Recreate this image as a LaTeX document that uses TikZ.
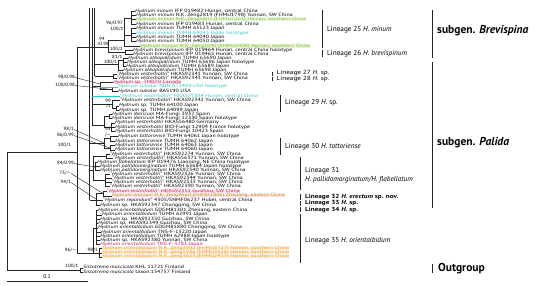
\documentclass[tikz,border=0pt]{standalone}
\usepackage{graphicx}
\usepackage{fontspec}
\setmainfont{PT Sans}
\definecolor{cgreen}{HTML}{7DBF3A}
\definecolor{cgreenbg}{HTML}{E6F4D3}
\definecolor{ccyan}{HTML}{33C4C4}
\definecolor{cred}{HTML}{C2185B}
\definecolor{cpink}{HTML}{FCE3EB}
\definecolor{corange}{HTML}{F39A2C}
\definecolor{corangebg}{HTML}{FDEBD3}
\definecolor{cgold}{HTML}{C08A17}
\tikzset{
  tx/.style={font=\fontsize{4.6}{5}\selectfont, anchor=west, inner sep=0pt, text height=2.6pt, text depth=0.5pt},
  grn/.style={text=cgreen, fill=cgreenbg},
  cyn/.style={text=ccyan},
  rd/.style={text=cred},
  rdbg/.style={text=cred, fill=cpink},
  gld/.style={text=cgold, fill=cpink},
  org/.style={text=corange, fill=corangebg},
  br/.style={line width=0.5pt, black!85},
  lead/.style={line width=0.4pt, black!85},
  bs/.style={font=\fontsize{4.6}{5}\selectfont, inner sep=0pt, text height=2.6pt, text depth=0.5pt},
  lin/.style={font=\fontsize{7.2}{8}\selectfont, anchor=west, inner sep=0pt, text height=4.3pt, text depth=0.5pt},
  lins/.style={font=\fontsize{5.9}{6}\selectfont, anchor=west, inner sep=0pt, text height=3.6pt, text depth=0.5pt},
  linsb/.style={lins, font=\fontsize{5.9}{6}\selectfont\bfseries},
  lbar/.style={line width=0.8pt, black!85},
  sg/.style={font=\fontsize{11.5}{12}\selectfont\bfseries, anchor=west, inner sep=0pt},
}
\newcommand\tax[5][]{\node[tx,#1] (#2) at (#3,#4) {\scalebox{1.28}[1]{#5}};}
\newcommand\twig[3][]{\coordinate (tmpc) at (#2,0); \draw[br,#1] (tmpc |- #3.west) -- (#3.west);}
\newcommand\hy{\textit{Hydnum}}
\newcommand\wsup[1]{\scalebox{1.1}[1]{#1}}
\newcommand\wlin[1]{\scalebox{1.22}[1]{#1}}
\begin{document}
\begin{tikzpicture}[x=1pt,y=-1pt]
\useasboundingbox (0,0) rectangle (550,285);
% ---------------- taxa
\tax{l1}{135}{11.7}{\textit{Hydnum minum} IFP 019482 Hunan, central China}
\tax{l2}{136}{15.6}{\textit{Hydnum minum} N.K. Zeng2819 (FHMU1798) Yunnan, SW China}
\tax[grn]{l3}{136}{19.6}{\textit{Hydnum minum} N.K. Zeng5807 (FHMU7303) Hainan, southern China}
\tax{l4}{136}{24}{\textit{Hydnum minum} IFP 019483 Hunan, central China}
\tax{l5}{136}{28.3}{\textit{Hydnum minum} TUMH 63123 Japan}
\tax[cyn]{l6}{136}{33}{\textit{Hydnum minum} TUMH 64043 Japan holotype}
\tax{l7}{136}{37.3}{\textit{Hydnum minum} TUMH 64040 Japan}
\tax{l8}{136}{41.7}{\textit{Hydnum minum} TUMH 64050 Japan}
\tax[grn]{l9}{140}{46}{\textit{Hydnum minum} N.K. Zeng3690 (FHMU2408) Hainan, southern China}
\tax{l10}{133}{50}{\textit{Hydnum brevispinum} IFP 019464 Hunan, central China holotype}
\tax{l11}{133}{54}{\textit{Hydnum brevispinum} IFP 019465 Hunan, central China}
\tax{l12}{128}{58.2}{\textit{Hydnum albopallidum} TUMH 63690 Japan}
\tax{l13}{127}{62}{\textit{Hydnum albopallidum} TUMH 63696 Japan holotype}
\tax{l14}{126}{66}{\textit{Hydnum albopallidum} TUMH 63689 Japan}
\tax{l15}{123}{70.2}{\textit{Hydnum albopallidum} TUMH 63698 Japan}
\tax{l16}{117}{74.3}{“\textit{Hydnum vesterholtii}” HKAS92341 Yunnan, SW China}
\tax{l17}{117}{78.4}{“\textit{Hydnum vesterholtii}” HKAS92343 Yunnan, SW China}
\tax[rdbg]{l18}{113}{82.6}{\hy{} sp. TM070 Canada}
\tax[cyn]{l19}{118}{86.8}{\textit{Hydnum subolor} NBN 073484 USA holotype}
\tax{l20}{118}{91}{\textit{Hydnum subolor} BAS190 USA}
\tax[cyn]{l21}{120}{96}{“\textit{Hydnum vesterholtii}” HKAS77884 Hunan, central China}
\tax{l22}{120}{100.7}{“\textit{Hydnum vesterholtii}” HKAS92342 Yunnan, SW China}
\tax{l23}{119}{105.8}{\hy{} sp. TUMH 64100 Japan}
\tax{l24}{119}{110}{\hy{} sp. TUMH 64099 Japan}
\tax{l25}{112}{114}{\textit{Hydnum ibericum} MA-Fungi 3937 Spain}
\tax{l26}{112}{118.2}{\textit{Hydnum ibericum} MA-Fungi 12330 Spain holotype}
\tax{l27}{115}{122.8}{\textit{Hydnum vesterholtii} HKAS56480 Germany}
\tax{l28}{115}{127.2}{\textit{Hydnum vesterholtii} BIO-Fungi 12904 France holotype}
\tax{l29}{115}{131.6}{\textit{Hydnum vesterholtii} BIO-Fungi 10423 Spain}
\tax{l30}{118}{136.2}{\textit{Hydnum tottoriense} TUMH 64061 Japan holotype}
\tax{l31}{115}{141.3}{\textit{Hydnum tottoriense} TUMH 64062 Japan}
\tax{l32}{115}{145.7}{\textit{Hydnum tottoriense} TUMH 64063 Japan}
\tax{l33}{115}{149.9}{\textit{Hydnum tottoriense} TUMH 64060 Japan}
\tax{l34}{110}{154.1}{“\textit{Hydnum vesterholtii}” HKAS92274 Yunnan, SW China}
\tax{l35}{113}{158.3}{“\textit{Hydnum vesterholtii}” HKAS56371 Yunnan, SW China}
\tax{l36}{97}{162.5}{\textit{Hydnum flabellatum} IFP 019476 Liaoning, NE China holotype}
\tax{l37}{100}{166.6}{\textit{Hydnum pallidomarginatum} TUMH 63684 Japan holotype}
\tax{l38}{100}{170.7}{\textit{Hydnum pallidomarginatum} HKAS92340 Yunnan, SW China}
\tax{l39}{110}{174.7}{“\textit{Hydnum vesterholtii}” HKAS92326 Yunnan, SW China}
\tax{l40}{112}{178.6}{“\textit{Hydnum vesterholtii}” HKAS92344 Yunnan, SW China}
\tax{l41}{112}{182.6}{“\textit{Hydnum vesterholtii}” HKAS92333 Yunnan, SW China}
\tax{l42}{110}{186.7}{“\textit{Hydnum vesterholtii}” HKAS92390 Yunnan, SW China}
\tax[rdbg]{l43}{107}{191.2}{“\textit{Hydnum vesterholtii}” HKAS92351 Guizhou, SW China}
\tax[gld]{l44}{112}{195.9}{\textit{Hydnum erectum} N.K. Zeng4560 (FHMU1806) Zhejiang, eastern China}
\tax{l45}{103}{200.6}{“\textit{Hydnum repandum}” 4305/SNMF06237 Hubei, central China}
\tax{l46}{100}{205}{\hy{} sp. HKAS92347 Chongqing, SW China}
\tax{l47}{98}{210.4}{\textit{Hydnum orientalbidum} GDGM81301 Zhejiang, eastern China}
\tax{l48}{102}{214.9}{\textit{Hydnum orientalbidum} TUMH 62991 Japan}
\tax{l49}{100}{219.3}{\hy{} sp. HKAS92350 Guizhou, SW China}
\tax{l50}{98}{223.6}{\hy{} sp. HKAS92349 Guizhou, SW China}
\tax{l51}{98}{227.9}{\textit{Hydnum orientalbidum} GDGM81880 Chongqing, SW China}
\tax{l52}{101}{232.2}{\textit{Hydnum orientalbidum} TNS-F-15220 Japan}
\tax{l53}{100}{236.3}{\textit{Hydnum orientalbidum} TUMH 62988 Japan holotype}
\tax{l54}{100}{240.5}{\hy{} sp. HKAS92380 Yunnan, SW China}
\tax[rd]{l55}{100}{244.6}{\textit{Hydnum orientalbidum} TNS-F-3783 Japan}
\tax[org]{l56}{102}{248.7}{\textit{Hydnum orientalbidum} N.K. Zeng3902 (FHMU3727) Hainan, southern China}
\tax[org]{l57}{102}{252.8}{\textit{Hydnum orientalbidum} N.K. Zeng5046 (FHMU3616) Hainan, southern China}
\tax[org]{l58}{102}{256.9}{\textit{Hydnum orientalbidum} N.K. Zeng3633 (FHMU2413) Hainan, southern China}
\tax{l59}{83}{267.8}{\textit{Sistotrema muscicola} KHL 11721 Finland}
\tax{l60}{83}{272.2}{\textit{Sistotrema muscicola} taxon:154757 Finland}
% ---------------- tree
% root and outgroup
\draw[br] (7,152) -- (7,270);
\draw[br] (7,152) -- (77,152);
\draw[br] (7,270) -- (80,270);
\draw[br] (80,267.8) -- (80,272.2);
\twig{80}{l59} \twig{80}{l60}
% ingroup backbone
\draw[br] (77,47) -- (77,253);
% Brevispina
\draw[br] (77,47) -- (108,47);
\draw[br] (108,40) -- (108,52);
\draw[br] (108,40) -- (124,40);
\draw[br] (124,18) -- (124,46);
\draw[br] (124,18) -- (131,18);
\draw[br] (131,11.7) -- (131,24);
\twig{131}{l1} \twig{131}{l2} \twig{131}{l3} \twig{131}{l4}
\draw[br] (124,35) -- (131,35);
\draw[br] (131,28.3) -- (131,41.7);
\twig{131}{l5} \twig{131}{l6} \twig{131}{l7} \twig{131}{l8}
\twig{124}{l9}
\draw[br] (108,52) -- (125,52);
\draw[br] (125,50) -- (125,54);
\twig{125}{l10} \twig{125}{l11}
% upper backbone lines
\draw[br] (89.5,8) -- (89.5,200);
\draw[br] (92,8) -- (92,125);
\draw[br] (94.5,8) -- (94.5,76);
% albopallidum
\draw[br] (94.5,64) -- (118,64);
\draw[br] (118,60) -- (118,70.2);
\draw[br] (118,60) -- (123,60);
\draw[br] (123,58.2) -- (123,66);
\twig{123}{l12} \twig{123}{l13} \twig{123}{l14} \twig{118}{l15}
% lineages 27/28
\draw[br] (94.5,76) -- (113,76);
\draw[br] (113,74.3) -- (113,78.4);
\twig{113}{l16} \twig{113}{l17}
% subolor group
\draw[br] (92,86) -- (100,86);
\draw[br] (100,82.6) -- (100,89);
\twig{100}{l18}
\draw[br] (100,89) -- (112,89);
\draw[br] (112,86.8) -- (112,91);
\twig[ccyan]{100}{l19} \twig{112}{l20}
% lineage 29
\twig[ccyan]{92}{l21}
\draw[br] (92,104) -- (112,104);
\draw[br] (112,100.7) -- (112,108);
\twig{112}{l22}
\draw[br] (112,108) -- (116,108);
\draw[br] (116,105.8) -- (116,110);
\twig{116}{l23} \twig{116}{l24}
% ibericum / vesterholtii (Europe)
\draw[br] (92,125) -- (104,125);
\draw[br] (104,116) -- (104,127.2);
\draw[br] (104,116) -- (109,116);
\draw[br] (109,114) -- (109,118.2);
\twig{109}{l25} \twig{109}{l26}
\draw[br] (104,127.2) -- (111,127.2);
\draw[br] (111,122.8) -- (111,131.6);
\twig{111}{l27} \twig{111}{l28} \twig{111}{l29}
% tottoriense
\draw[br] (89.5,143) -- (104,143);
\draw[br] (104,138) -- (104,148);
\draw[br] (104,138) -- (110,138);
\draw[br] (110,136.2) -- (110,141.3);
\twig{110}{l30} \twig{110}{l31}
\draw[br] (104,148) -- (110,148);
\draw[br] (110,145.7) -- (110,149.9);
\twig{110}{l32} \twig{110}{l33}
% lineage 31
\draw[br] (89.5,170) -- (93,170);
\draw[br] (93,156) -- (93,180);
\draw[br] (93,156) -- (106,156);
\draw[br] (106,154.1) -- (106,158.3);
\twig{106}{l34} \twig{106}{l35}
\draw[br] (93,166.6) -- (95,166.6);
\draw[br] (95,162.5) -- (95,170.7);
\twig{95}{l36} \twig{95}{l37} \twig{95}{l38}
\draw[br] (93,180) -- (105,180);
\draw[br] (105,174.7) -- (105,186.7);
\twig{105}{l39} \twig{105}{l40} \twig{105}{l41} \twig{105}{l42}
% lineages 32-34
\draw[br] (89.5,200) -- (96,200);
\draw[br] (96,193.5) -- (96,205);
\draw[br] (96,193.5) -- (103,193.5);
\draw[br] (103,191.2) -- (103,195.9);
\twig{103}{l43} \twig{103}{l44}
\twig{96}{l45} \twig{96}{l46}
% orientalbidum
\draw[br] (77,253) -- (99,253);
\draw[br] (93,228) -- (93,253);
\draw[br] (93,228) -- (96,228);
\draw[br] (96,210.4) -- (96,244.6);
\twig{96}{l47} \twig{96}{l48} \twig{96}{l49} \twig{96}{l50} \twig{96}{l51}
\twig{96}{l52} \twig{96}{l53} \twig{96}{l54} \twig{96}{l55}
\draw[br] (99,248.7) -- (99,256.9);
\twig{99}{l56} \twig{99}{l57} \twig{99}{l58}
% ---------------- support values
\node[bs,anchor=east] at (123,23.5) {\wsup{96/0.97}};
\node[bs,anchor=east] at (123.5,29.5) {\wsup{100/1}};
\node[bs,anchor=west] at (99,39.3) {\wsup{94}};
\node[bs,anchor=west] at (97.5,44.2) {\wsup{/0.98}};
\node[bs,anchor=east] at (123,49.2) {\wsup{100/1}};
\node[bs,anchor=east] at (122.5,57) {\wsup{81/1}};
\node[bs,anchor=east] at (117,62) {\wsup{100/1}};
\node[bs,anchor=south east] at (111,103.4) {\wsup{99}};
\node[bs,anchor=north east] at (111,104.8) {\wsup{/1}};
\node[bs] at (108,129.8) {\wsup{95}};
\node[bs] at (108,135) {\wsup{/—}};
\node[bs,anchor=east] at (71,145.5) {\wsup{100/1}};
\node[bs,anchor=south east] at (98,251.8) {\wsup{98/1}};
\node[bs,anchor=east] at (76.5,250.5) {\wsup{96/—}};
\node[bs,anchor=east] at (78.5,266) {\wsup{100/1}};
\node[bs,anchor=east] (s1) at (75,77.5) {\wsup{98/0.98}};
\node[bs,anchor=east] (s2) at (75,85.5) {\wsup{100/0.98}};
\node[bs,anchor=east] (s3) at (74,129.5) {\wsup{98/1}};
\node[bs,anchor=east] (s4) at (74,135.5) {\wsup{86/0.99}};
\node[bs,anchor=east] (s5) at (74,163.5) {\wsup{84/0.99}};
\node[bs,anchor=east] (s6) at (71,173.5) {\wsup{73/—}};
\node[bs,anchor=east] (s7) at (71,182.5) {\wsup{94/1}};
\draw[lead] (s1.east) -- (100,84);
\draw[lead] (s2.east) -- (112,89.5);
\draw[lead] (s3.east) -- (104,143);
\draw[lead] (s4.east) -- (110,148);
\draw[lead] (s5.east) -- (95,167);
\draw[lead] (s6.east) -- (103,193.5);
\draw[lead] (s7.east) -- (96,199);
% scale bar
\draw[br] (7,281.5) -- (88,281.5);
\node[bs,font=\fontsize{5.6}{6}\selectfont] at (47,277) {0.1};
% ---------------- lineage labels
\draw[lbar] (322.5,10) -- (322.5,48);
\node[lin] at (327,29.5) {Lineage 25 \textit{H. minum}};
\draw[lbar] (322.5,50) -- (322.5,57);
\node[lin] at (327,54) {Lineage 26 \textit{H. brevispinum}};
\draw[lbar] (272,71.5) -- (272,76);
\node[lins] at (276.5,73.4) {\wlin{Lineage 27 \textit{H.} sp.}};
\draw[lbar] (272,77) -- (272,81);
\node[lins] at (276.5,78.9) {\wlin{Lineage 28 \textit{H.} sp.}};
\draw[lbar] (280,95) -- (280,112);
\node[lin] at (285,103) {Lineage 29 \textit{H.} sp.};
\draw[lbar] (280,138) -- (280,155);
\node[lin] at (285,147) {Lineage 30 \textit{H. tottoriense}};
\draw[lbar] (300,157) -- (300,190);
\node[lin] at (305,170.5) {Lineage 31};
\node[lin] at (305,180) {\textit{H. pallidomarginatum/H. flabellatum}};
\draw[lbar] (300,193.5) -- (300,200);
\node[linsb] at (305,197.2) {\wlin{Lineage 32 \textit{H. erectum} sp. nov.}};
\draw[lbar] (300,201) -- (300,205.8);
\node[linsb] at (305,203.4) {\wlin{Lineage 33 \textit{H.} sp.}};
\draw[lbar] (300,207) -- (300,212);
\node[linsb] at (305,209.6) {\wlin{Lineage 34 \textit{H.} sp.}};
\draw[lbar] (300,214) -- (300,263);
\node[lin] at (305,240.5) {Lineage 35 \textit{H. orientalbidum}};
% ---------------- subgenera
\draw[lbar] (432.5,10) -- (432.5,58);
\node[sg] at (437,31) {subgen. \textit{Brevispina}};
\draw[lbar] (432.5,61.5) -- (432.5,208);
\node[sg] at (437,143) {subgen. \textit{Palida}};
\draw[lbar] (432.5,264) -- (432.5,272.5);
\node[sg] at (438,269) {Outgroup};
\end{tikzpicture}
\end{document}
